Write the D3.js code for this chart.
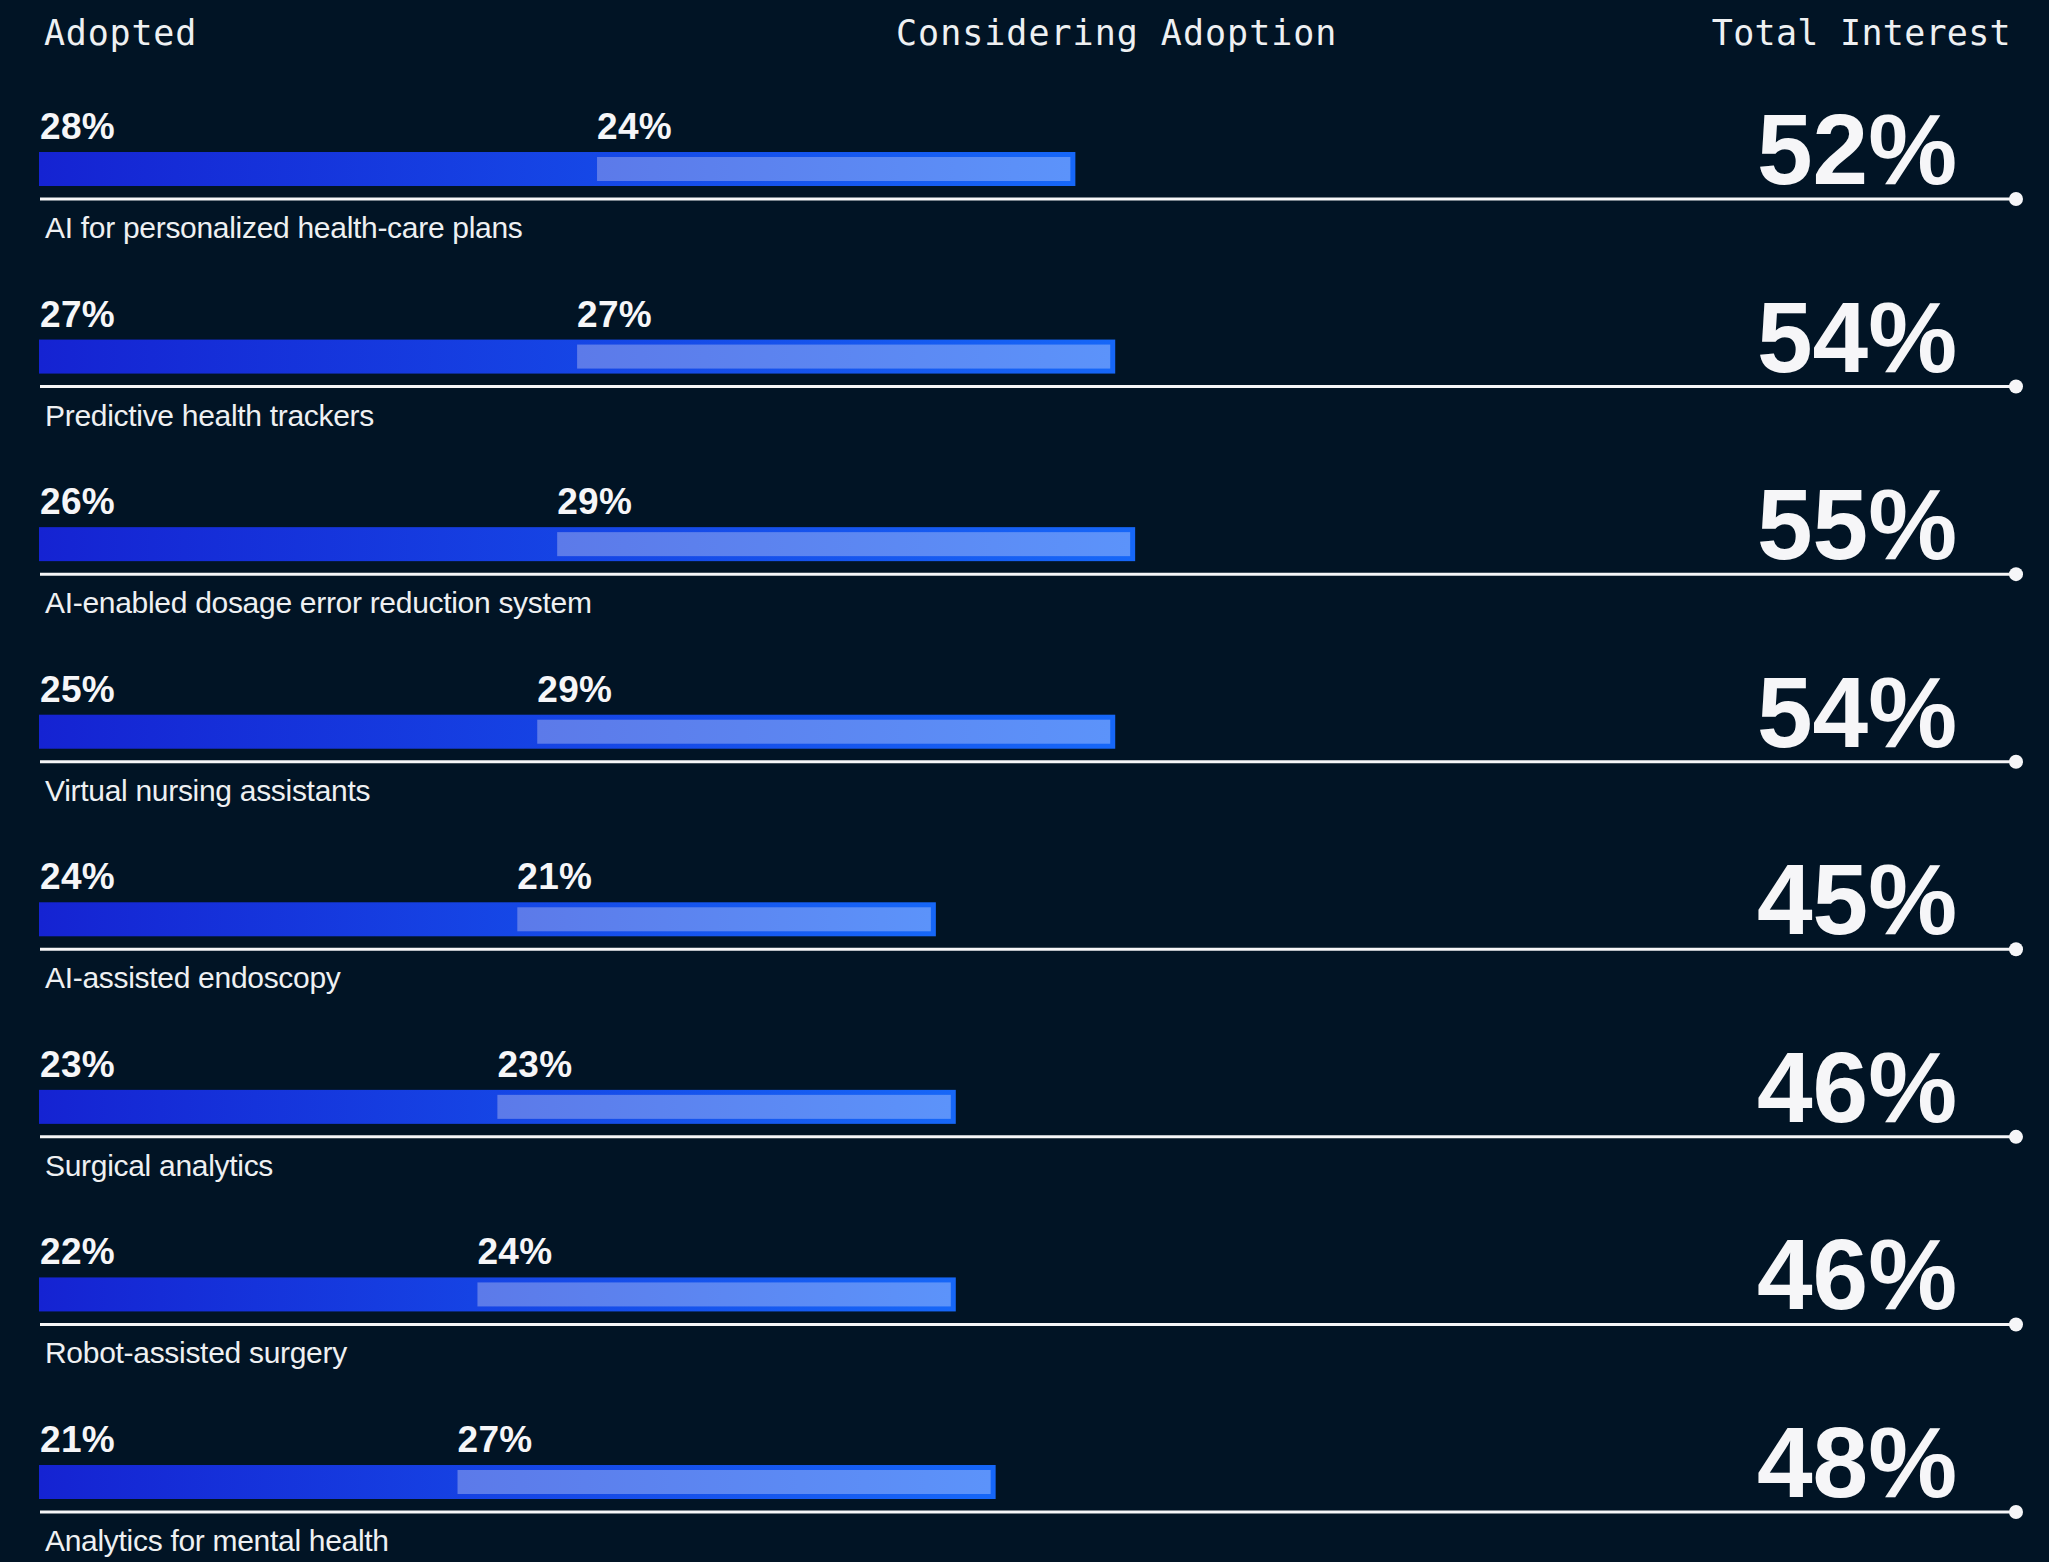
<!DOCTYPE html>
<html>
<head>
<meta charset="utf-8">
<script src="https://cdn.jsdelivr.net/npm/d3@7"></script>
<style>
  html, body { margin: 0; padding: 0; background: #011425; }
  svg { display: block; }
</style>
</head>
<body>
<svg id="chart" width="2049" height="1562"></svg>
<script>
const categories = [
  "AI for personalized health-care plans",
  "Predictive health trackers",
  "AI-enabled dosage error reduction system",
  "Virtual nursing assistants",
  "AI-assisted endoscopy",
  "Surgical analytics",
  "Robot-assisted surgery",
  "Analytics for mental health"
];
const adopted = [28, 27, 26, 25, 24, 23, 22, 21];
const considering = [24, 27, 29, 29, 21, 23, 24, 27];
const totalInterest = [52, 54, 55, 54, 45, 46, 46, 48];
const headers = ["Adopted", "Considering Adoption", "Total Interest"];

const W = 2049, H = 1562;
const svg = d3.select("#chart");
svg.append("rect").attr("width", W).attr("height", H).attr("fill", "#011425");

const defs = svg.append("defs");
const g1 = defs.append("linearGradient").attr("id", "barGrad").attr("x1", "0%").attr("x2", "100%");
g1.append("stop").attr("offset", "0%").attr("stop-color", "#1523d2");
g1.append("stop").attr("offset", "100%").attr("stop-color", "#1667f8");
const g2 = defs.append("linearGradient").attr("id", "lightGrad").attr("x1", "0%").attr("x2", "100%");
g2.append("stop").attr("offset", "0%").attr("stop-color", "#5c7ae9");
g2.append("stop").attr("offset", "100%").attr("stop-color", "#5c93fa");

const x = d3.scaleLinear().domain([0, 100]).range([39, 39 + 1993]);
const y = d3.scalePoint().domain(categories).range([199, 1512]);

const mono = "'DejaVu Sans Mono', monospace";
const sans = "'Liberation Sans', Arial, sans-serif";

// headers
svg.append("text").attr("x", 44).attr("y", 45).text(headers[0])
  .attr("font-family", mono).attr("font-size", 35).attr("letter-spacing", 0.8).attr("fill", "#eef0f2");
svg.append("text").attr("x", 896).attr("y", 45).text(headers[1])
  .attr("font-family", mono).attr("font-size", 35).attr("letter-spacing", 1).attr("fill", "#eef0f2");
svg.append("text").attr("x", 2011).attr("y", 45).attr("text-anchor", "end").text(headers[2])
  .attr("font-family", mono).attr("font-size", 35).attr("letter-spacing", 0.3).attr("fill", "#eef0f2");

const rows = svg.selectAll("g.row").data(categories).join("g")
  .attr("class", "row")
  .attr("transform", d => `translate(0,${y(d)})`);

// full bar (adopted + considering)
rows.append("rect")
  .attr("x", x(0))
  .attr("y", -47)
  .attr("width", (d, i) => x(adopted[i] + considering[i]) - x(0))
  .attr("height", 34)
  .attr("fill", "url(#barGrad)");

// considering inner light rect
rows.append("rect")
  .attr("x", (d, i) => x(adopted[i]))
  .attr("y", -42)
  .attr("width", (d, i) => x(adopted[i] + considering[i]) - x(adopted[i]) - 5)
  .attr("height", 24)
  .attr("fill", "url(#lightGrad)");

// value labels
rows.append("text")
  .attr("x", x(0) + 1)
  .attr("y", -60)
  .text((d, i) => adopted[i] + "%")
  .attr("font-family", sans).attr("font-weight", "bold").attr("font-size", 37)
  .attr("letter-spacing", 0.3).attr("fill", "#f6f6f8");
rows.append("text")
  .attr("x", (d, i) => x(adopted[i]))
  .attr("y", -60)
  .text((d, i) => considering[i] + "%")
  .attr("font-family", sans).attr("font-weight", "bold").attr("font-size", 37)
  .attr("letter-spacing", 0.3).attr("fill", "#f6f6f8");

// baseline line + dot
rows.append("line")
  .attr("x1", 40).attr("x2", 2016).attr("y1", 0).attr("y2", 0)
  .attr("stroke", "#f6f6f8").attr("stroke-width", 3);
rows.append("circle")
  .attr("cx", 2016).attr("cy", 0).attr("r", 7).attr("fill", "#f6f6f8");

// total interest
rows.append("text")
  .attr("x", 1757)
  .attr("y", -15)
  .text((d, i) => totalInterest[i] + "%")
  .attr("font-family", sans).attr("font-weight", "bold").attr("font-size", 100)
  .attr("letter-spacing", 0).attr("fill", "#f6f6f8");

// category labels
rows.append("text")
  .attr("x", 45)
  .attr("y", 39)
  .text(d => d)
  .attr("font-family", sans).attr("font-size", 30)
  .attr("letter-spacing", -0.3).attr("fill", "#eef0f2");
</script>
</body>
</html>
